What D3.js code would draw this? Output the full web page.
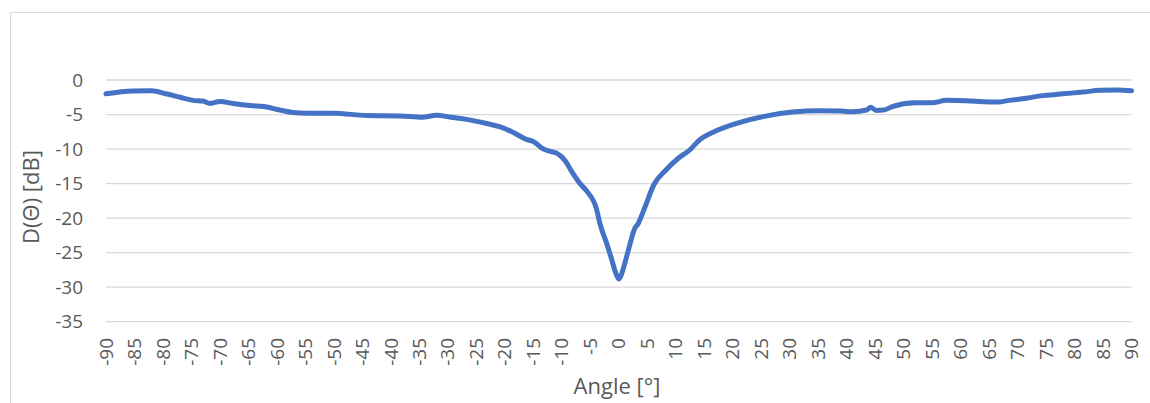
<!DOCTYPE html>
<html>
<head>
<meta charset="utf-8">
<script src="https://cdn.jsdelivr.net/npm/d3@7"></script>
<style>
  html, body { margin: 0; padding: 0; background: #fff; }
  svg { display: block; }
  .tick-label { font-family: "Open Sans", sans-serif; font-size: 19px; fill: #595959; }
  .axis-title { font-family: "Open Sans", sans-serif; font-size: 22px; fill: #595959; }
</style>
</head>
<body>
<svg id="chart" width="1150" height="403"></svg>
<script>
// Directivity pattern D(Θ) in dB versus angle in degrees
const angles = [
  -90, -85.3, -82, -79.5, -77, -74.7, -73, -71.7, -70, -67.7, -64.7, -62.3,
  -59.5, -57.2, -54.7, -50.1, -44.2, -38.4, -34.5, -32, -29.5, -26.7, -23.2,
  -20.8, -18.5, -16.2, -15, -13.2, -12.6, -10.9, -9.4, -8.3, -6.8, -5.6, -3.9,
  -3.3, -2.1, -1.2, -0.6, 0, 0.3, 0.8, 1.7, 2.8, 3.4, 4.6, 6.2, 8.2, 10.5,
  12.5, 14, 17, 21, 26, 30.5, 35, 39, 41, 43.5, 44.2, 45.2, 46.5, 48, 52, 55,
  57.5, 61, 64, 66.5, 68.5, 71.5, 74, 78, 81.5, 84.5, 87.5, 90
];
const dB = [
  -2.0, -1.6, -1.55, -2.0, -2.5, -2.95, -3.05, -3.4, -3.1, -3.4, -3.7, -3.85,
  -4.35, -4.7, -4.8, -4.8, -5.15, -5.2, -5.4, -5.1, -5.4, -5.7, -6.3,
  -6.8, -7.6, -8.6, -8.9, -10.0, -10.2, -10.6, -11.7, -13.2, -15.0, -16.1, -18.7,
  -20.8, -23.7, -26.1, -27.8, -28.8, -28.5, -27.3, -24.6, -21.5, -20.8, -18.4, -15.1, -13.1, -11.3,
  -10.1, -8.8, -7.4, -6.2, -5.2, -4.65, -4.45, -4.5, -4.6, -4.35, -3.95, -4.4, -4.35, -3.85, -3.3, -3.3,
  -2.95, -3.0, -3.15, -3.2, -2.95, -2.65, -2.3, -2.0, -1.75, -1.5, -1.45, -1.55
];
const xTicks = d3.range(-90, 91, 5);
const yTicks = [0, -5, -10, -15, -20, -25, -30, -35];
const xTitle = "Angle [°]";
const yTitle = "D(Θ) [dB]";

const data = angles.map((a, i) => ({ a, v: dB[i] }));

const svg = d3.select("#chart");
const plotLeft = 106, plotRight = 1131.5, plotTop = 80, plotBottom = 321.7;

const x = d3.scaleLinear().domain([-90, 90]).range([plotLeft, plotRight]);
const y = d3.scaleLinear().domain([-35, 0]).range([plotBottom, plotTop]);

// outer chart frame
svg.append("rect")
  .attr("x", 10.5).attr("y", 12.5)
  .attr("width", 1200).attr("height", 500)
  .attr("fill", "none").attr("stroke", "#d9d9d9").attr("stroke-width", 1);

// horizontal gridlines
svg.append("g")
  .selectAll("line")
  .data(yTicks)
  .join("line")
  .attr("x1", plotLeft).attr("x2", plotRight)
  .attr("y1", d => y(d)).attr("y2", d => y(d))
  .attr("stroke", "#d9d9d9").attr("stroke-width", 1.3);

// y tick labels
svg.append("g")
  .selectAll("text")
  .data(yTicks)
  .join("text")
  .attr("class", "tick-label")
  .attr("x", 83)
  .attr("y", d => y(d))
  .attr("dy", "0.35em")
  .attr("text-anchor", "end")
  .text(d => d);

// x tick labels, rotated
svg.append("g")
  .selectAll("text")
  .data(xTicks)
  .join("text")
  .attr("class", "tick-label")
  .attr("transform", d => `translate(${x(d)},338) rotate(-90)`)
  .attr("dy", "0.35em")
  .attr("text-anchor", "end")
  .text(d => d);

// data line
const line = d3.line()
  .x(d => x(d.a))
  .y(d => y(d.v))
  .curve(d3.curveMonotoneX);

svg.append("path")
  .datum(data)
  .attr("d", line)
  .attr("fill", "none")
  .attr("stroke", "#4472c4")
  .attr("stroke-width", 5)
  .attr("stroke-linejoin", "round")
  .attr("stroke-linecap", "round");

// axis titles
svg.append("text")
  .attr("class", "axis-title")
  .attr("x", 617).attr("y", 394)
  .attr("text-anchor", "middle")
  .text(xTitle);

svg.append("text")
  .attr("class", "axis-title")
  .attr("transform", "translate(39,197) rotate(-90)")
  .attr("text-anchor", "middle")
  .text(yTitle);
</script>
</body>
</html>
